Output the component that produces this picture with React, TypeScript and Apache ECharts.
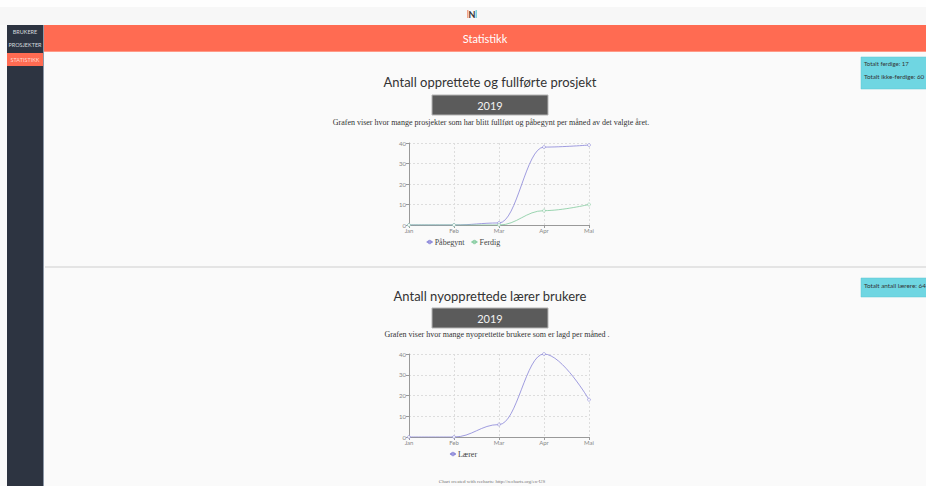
import React, { useEffect, useRef } from "react";
import * as echarts from "echarts";

const months = ["Jan", "Feb", "Mar", "Apr", "Mai"];
const yTicks = [0, 10, 20, 30, 40];
const paabegynt = [0, 0, 1, 38, 39];
const ferdig = [0, 0, 0, 7, 10];
const laerer = [0, 0, 6, 40, 18];
const sideMenu = ["BRUKERE", "PROSJEKTER", "STATISTIKK"];

const PURPLE = "#8884d8";
const GREEN = "#82ca9d";
const SANS = "Lato, 'Open Sans', sans-serif";
const SERIF = "'Liberation Serif', 'DejaVu Serif', serif";

function axisPair(gridIndex: number) {
  const x = {
    type: "category" as const,
    gridIndex,
    data: months,
    boundaryGap: false,
    axisLine: { lineStyle: { color: "#999", width: 1 } },
    axisTick: { show: true, length: 3, lineStyle: { color: "#999" } },
    axisLabel: { color: "#888", fontSize: 6, fontFamily: SANS, margin: 2 },
    splitLine: { show: true, lineStyle: { color: "#ddd", type: [2, 2] as any, width: 1 } },
  };
  const y = {
    type: "value" as const,
    gridIndex,
    min: 0,
    max: yTicks[yTicks.length - 1],
    interval: 10,
    axisLine: { show: true, lineStyle: { color: "#999", width: 1 } },
    axisTick: { show: true, length: 3, lineStyle: { color: "#999" } },
    axisLabel: { color: "#888", fontSize: 6, fontFamily: SANS, margin: 3 },
    splitLine: { show: true, lineStyle: { color: "#ddd", type: [2, 2] as any, width: 1 } },
  };
  return { x, y };
}

function lineSeries(name: string, data: number[], color: string, idx: number) {
  return {
    type: "line" as const,
    name,
    data,
    xAxisIndex: idx,
    yAxisIndex: idx,
    smooth: 0.4,
    smoothMonotone: "x" as const,
    symbol: "circle",
    symbolSize: 3,
    showSymbol: true,
    color,
    lineStyle: { color, width: 1, opacity: 0.8 },
    itemStyle: { color: "#ffffff", borderColor: color, borderWidth: 0.7, opacity: 0.8 },
  };
}

export default function App() {
  const ref = useRef<HTMLDivElement>(null);
  useEffect(() => {
    if (!ref.current) return;
    const chart = echarts.init(ref.current, undefined, { renderer: "svg" });
    const a1 = axisPair(0);
    const a2 = axisPair(1);

    const graphic: any[] = [
      { type: "rect", shape: { x: 0, y: 0, width: 926, height: 486 }, style: { fill: "#fafafa" }, z: -10 },
      { type: "rect", shape: { x: 0, y: 0, width: 926, height: 7 }, style: { fill: "#fefefe" }, z: -9 },
      { type: "rect", shape: { x: 0, y: 7, width: 926, height: 18 }, style: { fill: "#f7f7f7" }, z: -9 },
      // logo
      { type: "rect", shape: { x: 467, y: 10, width: 1.5, height: 8 }, style: { fill: "#f4a38c" }, z: -8 },
      { type: "rect", shape: { x: 475.5, y: 10, width: 1.5, height: 8 }, style: { fill: "#7fd3de" }, z: -8 },
      { type: "text", style: { text: "N", x: 472, y: 14, fill: "#333", font: "bold 9px " + SANS, align: "center", verticalAlign: "middle" } },
      // sidebar
      { type: "rect", shape: { x: 7, y: 25, width: 36, height: 461 }, style: { fill: "#2d3441" }, z: -8 },
      { type: "rect", shape: { x: 43, y: 25, width: 1, height: 461 }, style: { fill: "#8c97a6" }, z: -8 },
      { type: "rect", shape: { x: 7, y: 53, width: 36, height: 13 }, style: { fill: "#ff6b52" }, z: -7 },
      // header
      { type: "rect", shape: { x: 44, y: 25, width: 882, height: 27 }, style: { fill: "#ff6b52" }, z: -8 },
      { type: "rect", shape: { x: 44, y: 51, width: 882, height: 1 }, style: { fill: "#ff9a87" }, z: -7 },
      { type: "text", style: { text: "Statistikk", x: 485, y: 38.5, fill: "#ffffff", font: "11px " + SANS, align: "center", verticalAlign: "middle" } },
      // separator
      { type: "rect", shape: { x: 45, y: 266, width: 881, height: 2 }, style: { fill: "#e4e4e4" }, z: -8 },
      // info boxes
      { type: "rect", shape: { x: 861, y: 57, width: 70, height: 32 }, style: { fill: "#6fd6e2", stroke: "#5cc4d0", lineWidth: 0.5 }, z: -7 },
      { type: "text", style: { text: "Totalt ferdige: 17", x: 864, y: 63.5, fill: "#333", font: "6px " + SANS, verticalAlign: "middle" } },
      { type: "text", style: { text: "Totalt ikke-ferdige: 60", x: 864, y: 76, fill: "#333", font: "6.3px " + SANS, verticalAlign: "middle" } },
      { type: "rect", shape: { x: 861, y: 278, width: 70, height: 19 }, style: { fill: "#6fd6e2", stroke: "#5cc4d0", lineWidth: 0.5 }, z: -7 },
      { type: "text", style: { text: "Totalt antall lærere: 64", x: 864, y: 285.5, fill: "#333", font: "6.3px " + SANS, verticalAlign: "middle" } },
      // chart 1 header
      { type: "text", style: { text: "Antall opprettete og fullførte prosjekt", x: 490, y: 82, fill: "#333", font: "13px " + SANS, align: "center", verticalAlign: "middle" } },
      { type: "rect", shape: { x: 432, y: 95, width: 116, height: 20 }, style: { fill: "#5b5b5b", stroke: "#b5b5b5", lineWidth: 1 }, z: -7 },
      { type: "text", style: { text: "2019", x: 490, y: 105, fill: "#f2f2f2", font: "11px " + SANS, align: "center", verticalAlign: "middle" } },
      { type: "text", style: { text: "Grafen viser hvor mange prosjekter som har blitt fullført og påbegynt per måned av det valgte året.", x: 491, y: 122, fill: "#333", font: "8px " + SERIF, align: "center", verticalAlign: "middle" } },
      // chart 2 header
      { type: "text", style: { text: "Antall nyopprettede lærer brukere", x: 490, y: 296, fill: "#333", font: "13px " + SANS, align: "center", verticalAlign: "middle" } },
      { type: "rect", shape: { x: 432, y: 308, width: 116, height: 20 }, style: { fill: "#5b5b5b", stroke: "#b5b5b5", lineWidth: 1 }, z: -7 },
      { type: "text", style: { text: "2019", x: 490, y: 318, fill: "#f2f2f2", font: "11px " + SANS, align: "center", verticalAlign: "middle" } },
      { type: "text", style: { text: "Grafen viser hvor mange nyoprettette brukere som er lagd per måned .", x: 497, y: 334, fill: "#333", font: "8px " + SERIF, align: "center", verticalAlign: "middle" } },
      // footer
      { type: "text", style: { text: "Chart created with recharts: http://recharts.org/en-US", x: 492, y: 481, fill: "#777", font: "5px " + SERIF, align: "center", verticalAlign: "middle" } },
    ];
    sideMenu.forEach((t, i) => {
      graphic.push({
        type: "text",
        style: { text: t, x: 25, y: [32, 45, 59.5][i], fill: i === 2 ? "#ffd8cf" : "#d4d8de", font: "5.5px " + SANS, align: "center", verticalAlign: "middle" },
      });
    });

    chart.setOption({
      animation: false,
      grid: [
        { left: 409, top: 143, width: 180, height: 82, containLabel: false },
        { left: 409, top: 354, width: 180, height: 83, containLabel: false },
      ],
      xAxis: [a1.x, a2.x],
      yAxis: [a1.y, a2.y],
      legend: [
        {
          data: ["Påbegynt", "Ferdig"],
          left: "center",
          top: 233,
          itemWidth: 6,
          itemHeight: 3,
          itemGap: 6,
          textStyle: { color: "#444", fontSize: 8, fontFamily: SERIF, padding: [0, 0, 0, -3] },
        },
        {
          data: ["Lærer"],
          left: "center",
          top: 445,
          itemWidth: 6,
          itemHeight: 3,
          textStyle: { color: "#444", fontSize: 8, fontFamily: SERIF, padding: [0, 0, 0, -3] },
        },
      ],
      graphic,
      series: [
        lineSeries("Påbegynt", paabegynt, PURPLE, 0),
        lineSeries("Ferdig", ferdig, GREEN, 0),
        lineSeries("Lærer", laerer, PURPLE, 1),
      ],
    });
    return () => chart.dispose();
  }, []);
  return <div ref={ref} style={{ position: "absolute", left: 0, top: 0, width: 926, height: 486 }} />;
}
